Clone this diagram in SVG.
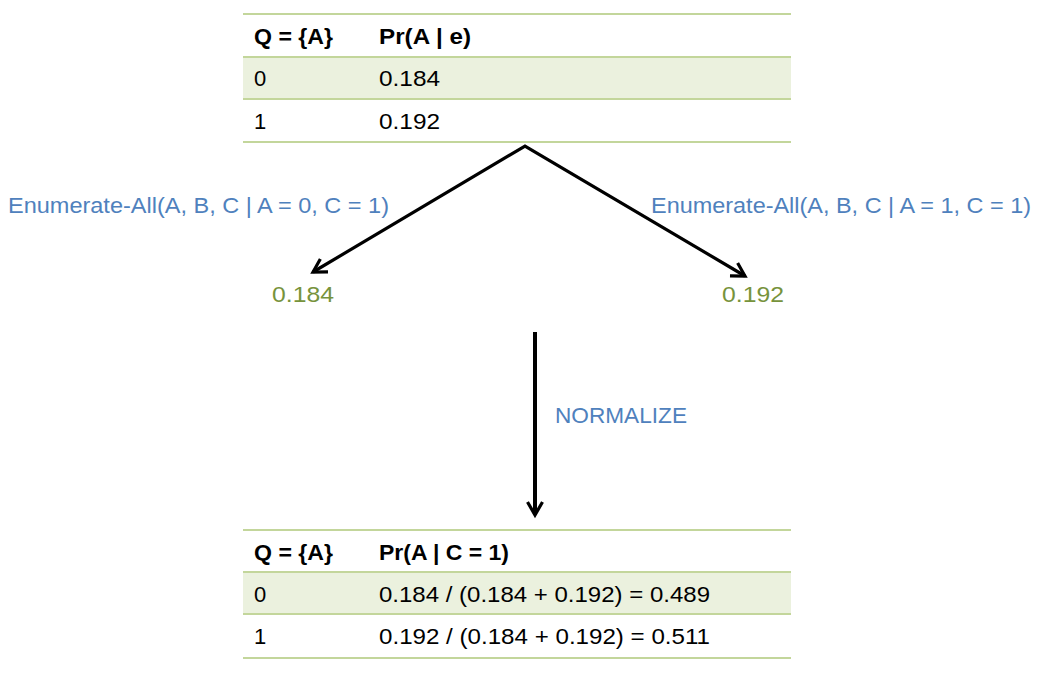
<svg xmlns="http://www.w3.org/2000/svg" width="1039" height="680" viewBox="0 0 1039 680">
<defs>
<style>
.t{font-family:"Liberation Sans",Arial,sans-serif;font-size:22px;fill:#000}
.b{font-weight:bold}
.blue{font-family:"Liberation Sans",Arial,sans-serif;font-size:22px;fill:#4F81BD}
.green{font-family:"Liberation Sans",Arial,sans-serif;font-size:22px;fill:#77933C}
.rule{stroke:#C3D69B;stroke-width:2}
.shade{fill:#EBF1DE}
.conn{stroke:#000;fill:none}
</style>
<marker id="chev" viewBox="0 0 20 20" refX="16" refY="10" markerWidth="20" markerHeight="20" markerUnits="userSpaceOnUse" orient="auto-start-reverse">
<path d="M3,2.5 L16,10 L3,17.5" fill="none" stroke="#000" stroke-width="3.2" stroke-linejoin="miter"/>
</marker>
</defs>
<rect width="1039" height="680" fill="#fff"/>
<g id="table-top">
<rect class="shade" x="243" y="57" width="548" height="42"/>
<line class="rule" x1="243" y1="14" x2="791" y2="14"/>
<line class="rule" x1="243" y1="57" x2="791" y2="57"/>
<line class="rule" x1="243" y1="99" x2="791" y2="99"/>
<line class="rule" x1="243" y1="142" x2="791" y2="142"/>
<text class="t b" x="254" y="44" textLength="79" lengthAdjust="spacingAndGlyphs">Q = {A}</text>
<text class="t b" x="379" y="44" textLength="92" lengthAdjust="spacingAndGlyphs">Pr(A | e)</text>
<text class="t" x="254" y="86">0</text>
<text class="t" x="379" y="86" textLength="61" lengthAdjust="spacingAndGlyphs">0.184</text>
<text class="t" x="254" y="129">1</text>
<text class="t" x="379" y="129" textLength="61" lengthAdjust="spacingAndGlyphs">0.192</text>
</g>
<g id="connectors">
<polyline class="conn" points="313,272 525,146 745,276" stroke-width="3.2" marker-start="url(#chev)" marker-end="url(#chev)"/>
<line class="conn" x1="535" y1="332" x2="535" y2="515" stroke-width="4" marker-end="url(#chev)"/>
</g>
<g id="label-left"><text class="blue" x="8" y="213" textLength="381" lengthAdjust="spacingAndGlyphs">Enumerate-All(A, B, C | A = 0, C = 1)</text></g>
<g id="label-right"><text class="blue" x="651" y="213" textLength="380" lengthAdjust="spacingAndGlyphs">Enumerate-All(A, B, C | A = 1, C = 1)</text></g>
<g id="value-left"><text class="green" x="272" y="302" textLength="62" lengthAdjust="spacingAndGlyphs">0.184</text></g>
<g id="value-right"><text class="green" x="722" y="302" textLength="62" lengthAdjust="spacingAndGlyphs">0.192</text></g>
<g id="label-normalize"><text class="blue" x="555" y="423" textLength="132" lengthAdjust="spacingAndGlyphs">NORMALIZE</text></g>
<g id="table-bottom">
<rect class="shade" x="243" y="572" width="548" height="42"/>
<line class="rule" x1="243" y1="530" x2="791" y2="530"/>
<line class="rule" x1="243" y1="572" x2="791" y2="572"/>
<line class="rule" x1="243" y1="614" x2="791" y2="614"/>
<line class="rule" x1="243" y1="658" x2="791" y2="658"/>
<text class="t b" x="254" y="560" textLength="79" lengthAdjust="spacingAndGlyphs">Q = {A}</text>
<text class="t b" x="379" y="560" textLength="130" lengthAdjust="spacingAndGlyphs">Pr(A | C = 1)</text>
<text class="t" x="254" y="602">0</text>
<text class="t" x="379" y="602" textLength="331" lengthAdjust="spacingAndGlyphs">0.184 / (0.184 + 0.192) = 0.489</text>
<text class="t" x="254" y="644">1</text>
<text class="t" x="379" y="644" textLength="331" lengthAdjust="spacingAndGlyphs">0.192 / (0.184 + 0.192) = 0.511</text>
</g>
</svg>
